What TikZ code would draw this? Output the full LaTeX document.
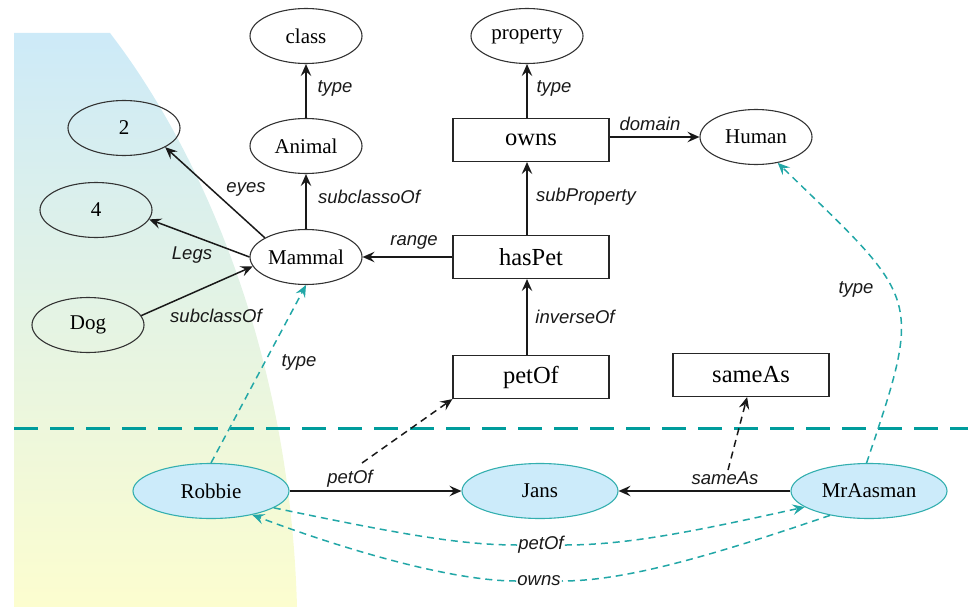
\documentclass[tikz,border=0pt]{standalone}
\usepackage{fontspec}
\setmainfont{Liberation Serif}
\newfontfamily\lblfont{Liberation Sans}
\usetikzlibrary{arrows.meta,shapes.geometric}
\definecolor{sepline}{HTML}{009C9C}
\definecolor{tealedge}{HTML}{22A7A7}
\definecolor{instfill}{HTML}{CCEBFA}
\definecolor{instborder}{HTML}{33AFAF}
\definecolor{bgtop}{HTML}{CDEAF8}
\definecolor{bgbottom}{HTML}{FCFDCF}

\begin{document}
\begin{tikzpicture}[x=1pt,y=-1pt,
  cls/.style={ellipse, draw=black!80, line width=1.1pt, minimum width=112pt,
    minimum height=55pt, inner sep=0pt, font=\fontsize{21}{24}\selectfont},
  inst/.style={ellipse, draw=instborder, fill=instfill, line width=1.1pt,
    minimum width=156pt, minimum height=55pt, inner sep=0pt,
    font=\fontsize{21}{24}\selectfont},
  prop/.style={rectangle, draw=black!85, line width=1.1pt, minimum width=156pt,
    minimum height=43pt, inner sep=0pt, font=\fontsize{24.5}{28}\selectfont},
  edge/.style={draw=black!90, line width=1.5pt,
    -{Stealth[length=12pt,width=10.5pt,inset=4.5pt]}},
  dedge/.style={edge, dash pattern=on 7pt off 5pt},
  tedge/.style={draw=tealedge, line width=1.5pt, dash pattern=on 7pt off 5pt,
    -{Stealth[length=12pt,width=10.5pt,inset=4.5pt]}},
  tline/.style={draw=tealedge, line width=1.5pt, dash pattern=on 7pt off 5pt},
  lbl/.style={font=\lblfont\itshape\fontsize{18.5}{21}\selectfont,
    text=black!90, inner sep=1pt},
]
\useasboundingbox (0,0) rectangle (968,607);

% shaded background region on the left
\shade[top color=bgtop, bottom color=bgbottom]
  (14,33) -- (110,33) .. controls (200,150) and (290,350) .. (297,607)
  -- (14,607) -- cycle;

% separator between schema and instance level
\draw[sepline, line width=3pt, dash pattern=on 24pt off 12pt] (14,428) -- (968,428);

% schema nodes
\node[cls]  (class)    at (306,36)  {class};
\node[cls]  (property) at (527,36)  {property};
\node[cls]  (animal)   at (306,146) {Animal};
\node[prop] (owns)     at (531,140) {owns};
\node[cls]  (human)    at (756,137) {Human};
\node[cls]  (mammal)   at (306,257) {Mammal};
\node[prop] (haspet)   at (531,257) {hasPet};
\node[cls]  (two)      at (124,128) {2};
\node[cls]  (four)     at (96,210)  {4};
\node[cls]  (dog)      at (88,325)  {Dog};
\node[prop] (petof)    at (531,377) {petOf};
\node[prop] (sameas)   at (751,375) {sameAs};

% instance nodes
\node[inst] (robbie)   at (211,491) {Robbie};
\node[inst] (jans)     at (540,491) {Jans};
\node[inst] (aasman)   at (869,491) {MrAasman};

% schema edges
\draw[edge] (animal.north) -- (class.south);
\draw[edge] (mammal.north) -- (animal.south);
\draw[edge] (mammal.155) -- (two.-25);
\draw[edge] (mammal.west) -- (four.-10);
\draw[edge] (dog.10) -- (mammal.190);
\draw[edge] (haspet.west) -- (mammal.east);
\draw[edge] ([xshift=-4pt]haspet.north) -- ([xshift=-4pt]owns.south);
\draw[edge] ([xshift=-4pt]owns.north) -- (property.south);
\draw[edge] (owns.east |- human.west) -- (human.west);
\draw[edge] ([xshift=-4pt]petof.north) -- ([xshift=-4pt]haspet.south);

% instance edges
\draw[edge] (robbie.east) -- (jans.west);
\draw[edge] (aasman.west) -- (jans.east);
\coordinate (petofsrc)  at (362,463);
\coordinate (sameassrc) at (728,470);
\draw[dedge] (petofsrc) -- (petof.south west);
\draw[dedge] (sameassrc) -- (sameas.-100);
\draw[tedge] (robbie.north) -- (mammal.south);
\draw[tedge] (aasman.95) .. controls (924,293) and (920,301) .. (human.-50);

% curved instance edges below
\node[lbl, fill=white] (lpetof) at (541,545) {petOf};
\node[lbl, fill=white] (lowns)  at (539,581) {owns};
\draw[tline] (robbie.-15) .. controls (400,534) and (460,545) .. (lpetof.west);
\draw[tedge] (lpetof.east) .. controls (630,545) and (700,530) .. (aasman.194);
\draw[tline] (aasman.-148) .. controls (700,560) and (620,581) .. (lowns.east);
\draw[tedge] (lowns.west) .. controls (450,581) and (340,548) .. (robbie.-30);

% edge labels
\node[lbl] (ltype1)  at (335,88)  {type};
\node[lbl] (lsubc1)  at (369,197) {subclassoOf};
\node[lbl] (ltype2)  at (554,88)  {type};
\node[lbl] (lsubp)   at (586,197) {subProperty};
\node[lbl] (lrange)  at (414,242) {range};
\node[lbl] (ldomain) at (650,124) {domain};
\node[lbl] (leyes)   at (246,189) {eyes};
\node[lbl] (llegs)   at (192,255) {Legs};
\node[lbl] (lsubc2)  at (216,316) {subclassOf};
\node[lbl] (ltype3)  at (299,362) {type};
\node[lbl] (linv)    at (575,317) {inverseOf};
\node[lbl] (lpet2)   at (350,479) {petOf};
\node[lbl] (lsame)   at (725,478) {sameAs};
\node[lbl] (ltype4)  at (856,289) {type};
\end{tikzpicture}
\end{document}
